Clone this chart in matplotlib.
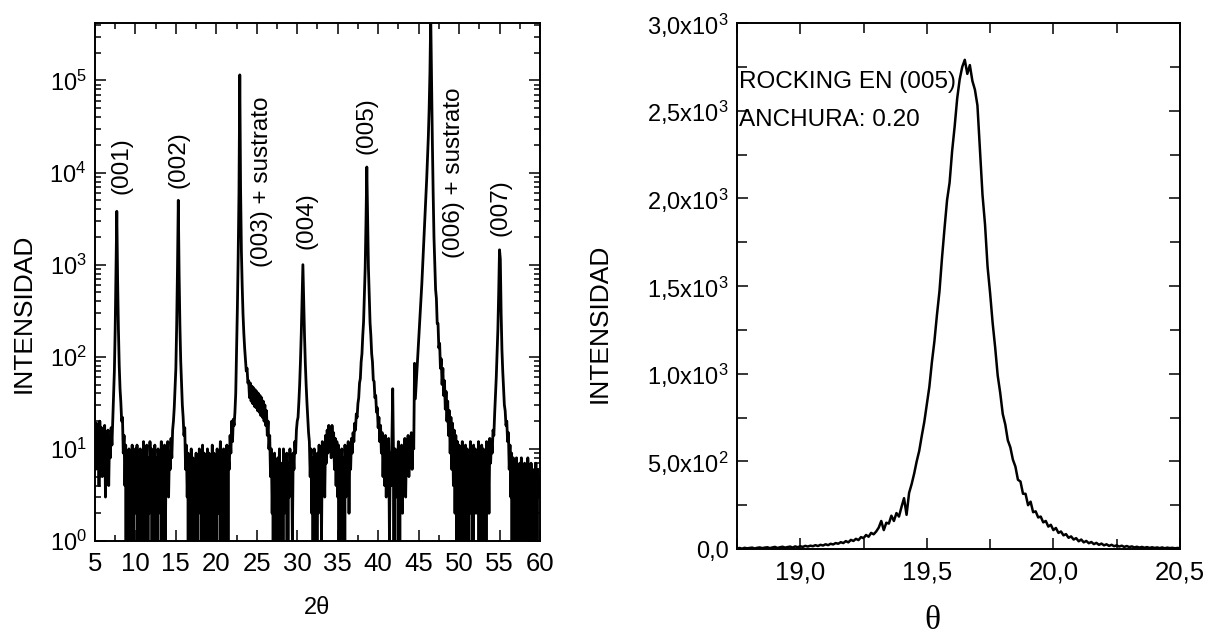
import numpy as np
import matplotlib
matplotlib.use("Agg")
import matplotlib.pyplot as plt
from matplotlib.ticker import MultipleLocator, FixedLocator, FuncFormatter, LogLocator, NullFormatter

plt.rcParams["font.family"] = ["Liberation Sans", "DejaVu Sans"]
plt.rcParams["mathtext.fontset"] = "custom"
plt.rcParams["mathtext.rm"] = "Liberation Sans"
plt.rcParams["mathtext.it"] = "Liberation Sans:italic"
plt.rcParams["mathtext.bf"] = "Liberation Sans:bold"
plt.rcParams["mathtext.default"] = "regular"

# ---- XRD scan (2theta from 5.0 to 60.0, step 0.1) ----
tt_start, tt_step = 5.0, 0.1
counts_05 = [14, 6, 19, 9, 16, 4, 20, 8, 17, 5,
             15, 9, 18, 3, 14, 7, 16, 4, 13, 8,
             17, 11, 20, 35, 70, 200, 850, 3800, 700, 200,
             80, 45, 32, 20, 22, 9, 14, 4, 11, 0,
             9, 3, 10, 0, 8, 2, 11, 0, 9, 3]
counts_10 = [10, 2, 11, 0, 7, 3, 10, 1, 8, 4,
             12, 0, 9, 3, 11, 0, 8, 2, 12, 5,
             10, 0, 9, 3, 11, 1, 8, 0, 10, 4,
             9, 2, 12, 0, 8, 3, 11, 1, 10, 5,
             12, 3, 9, 6, 13, 8, 16, 20, 28, 45]
counts_15 = [75, 220, 900, 5000, 800, 220, 90, 50, 30, 22,
             14, 17, 6, 11, 3, 9, 0, 8, 2, 10,
             0, 8, 1, 7, 3, 9, 0, 7, 2, 10,
             4, 8, 0, 11, 1, 9, 3, 7, 0, 10,
             5, 9, 0, 8, 2, 11, 1, 9, 4, 8]
counts_20 = [0, 10, 2, 9, 4, 12, 0, 8, 3, 10,
             1, 9, 5, 11, 0, 8, 6, 14, 9, 20,
             12, 21, 18, 25, 40, 110, 330, 1200, 6000, 115000,
             6500, 1400, 580, 290, 180, 125, 95, 70, 75, 52,
             55, 36, 52, 33, 48, 31, 46, 29, 44, 28]
counts_25 = [42, 26, 40, 25, 38, 23, 36, 22, 33, 20,
             30, 18, 26, 14, 20, 10, 14, 5, 10, 2,
             8, 0, 9, 2, 7, 0, 8, 3, 10, 1,
             4, 7, 0, 10, 2, 8, 5, 9, 0, 7,
             3, 10, 4, 8, 1, 9, 6, 12, 9, 16]
counts_30 = [20, 22, 32, 50, 90, 180, 450, 1000, 420, 170,
             85, 50, 32, 22, 15, 12, 5, 10, 2, 8,
             0, 10, 3, 8, 0, 9, 2, 11, 4, 9,
             1, 12, 5, 10, 3, 14, 7, 16, 9, 18,
             10, 16, 8, 18, 11, 15, 6, 13, 4, 12]
counts_35 = [3, 11, 0, 9, 4, 10, 1, 8, 0, 11,
             3, 9, 5, 12, 2, 10, 6, 13, 9, 15,
             12, 19, 16, 24, 22, 31, 36, 52, 58, 88,
             108, 170, 240, 460, 930, 3000, 11500, 3100, 920, 470,
             235, 170, 108, 88, 56, 54, 36, 38, 25, 28]
counts_40 = [17, 22, 12, 18, 9, 15, 5, 12, 4, 14,
             3, 11, 6, 13, 1, 9, 4, 12, 45, 8,
             0, 10, 3, 9, 6, 12, 0, 8, 4, 11,
             2, 10, 6, 13, 3, 11, 7, 14, 5, 12,
             9, 15, 6, 13, 10, 85, 35, 50, 70, 100]
counts_45 = [140, 200, 290, 420, 620, 950, 1400, 2200, 3300, 5200,
             8500, 14000, 24000, 48000, 120000, 500000, 100000, 22000, 6000, 2000,
             1000, 540, 430, 230, 230, 125, 140, 75, 95, 50,
             75, 38, 55, 27, 42, 20, 33, 14, 26, 9,
             22, 6, 19, 4, 16, 2, 14, 1, 12, 0]
counts_50 = [11, 3, 10, 0, 12, 4, 9, 1, 11, 5,
             10, 0, 8, 3, 12, 2, 9, 0, 11, 4,
             10, 2, 9, 5, 12, 0, 8, 3, 11, 1,
             10, 4, 9, 0, 12, 6, 10, 2, 13, 7,
             12, 9, 16, 14, 24, 38, 60, 110, 200, 500]
counts_55 = [1450, 1150, 300, 120, 70, 45, 30, 26, 18, 20,
             12, 15, 6, 11, 3, 9, 0, 8, 4, 7,
             1, 8, 3, 6, 0, 7, 2, 8, 0, 6,
             3, 7, 1, 5, 0, 8, 2, 6, 0, 7,
             4, 6, 0, 5, 2, 7, 0, 6, 3, 5,
             4]

peak_labels = ["(001)", "(002)", "(003) + sustrato", "(004)", "(005)", "(006) + sustrato", "(007)"]
label_x = [8.3, 15.3, 25.7, 31.1, 38.5, 49.4, 55.1]
label_y = [12000, 14000, 8000, 3000, 32000, 10000, 4200]

# ---- rocking curve (theta from 18.75 to 20.50, step 0.01) ----
th_start, th_step = 18.75, 0.01
rocking = [3, 6, 2, 7, 4, 6, 8, 3, 7, 9,
           5, 8, 10, 5, 9, 12, 6, 10, 13, 8,
           11, 14, 8, 15, 10, 16, 12, 18, 14, 19,
           16, 22, 17, 24, 20, 27, 22, 30, 26, 34,
           30, 39, 34, 45, 38, 52, 46, 58, 51, 68,
           62, 80, 70, 92, 84, 100, 122, 160, 108, 150,
           145, 190, 160, 205, 185, 240, 290, 195, 320, 370,
           430, 500, 560, 645, 725, 825, 925, 1065, 1185, 1335,
           1470, 1660, 1830, 1990, 2090, 2270, 2410, 2570, 2680, 2750,
           2790, 2710, 2760, 2670, 2620, 2530, 2280, 2020, 1850, 1610,
           1460, 1290, 1150, 990, 890, 770, 710, 620, 580, 510,
           470, 395, 385, 315, 315, 250, 270, 210, 215, 180,
           185, 152, 160, 128, 138, 108, 120, 92, 100, 78,
           85, 64, 72, 54, 62, 44, 54, 38, 46, 33,
           40, 28, 35, 24, 31, 21, 27, 18, 24, 16,
           21, 14, 19, 12, 17, 11, 15, 9, 13, 8,
           12, 7, 11, 6, 10, 6, 9, 5, 9, 4,
           8, 5, 7, 4, 6, 5]

counts = np.array(counts_05 + counts_10 + counts_15 + counts_20 + counts_25 + counts_30
                  + counts_35 + counts_40 + counts_45 + counts_50 + counts_55, dtype=float)
two_theta = tt_start + tt_step * np.arange(len(counts))
rock = np.array(rocking, dtype=float)
theta = th_start + th_step * np.arange(len(rock))

fig = plt.figure(figsize=(12.05, 6.41), dpi=100)

# left panel: XRD (log scale)
ax1 = fig.add_axes([0.0788, 0.156, 0.3693, 0.808])
ax1.plot(two_theta, counts, color="black", lw=2.0)
ax1.set_yscale("log")
ax1.set_xlim(5, 60)
ax1.set_ylim(1, 4.2e5)
ax1.xaxis.set_major_locator(MultipleLocator(5))
ax1.xaxis.set_minor_locator(MultipleLocator(2.5))
ax1.yaxis.set_major_locator(LogLocator(base=10, numticks=10))
ax1.yaxis.set_minor_locator(LogLocator(base=10, subs=np.arange(2, 10), numticks=20))
ax1.yaxis.set_minor_formatter(NullFormatter())
ax1.yaxis.set_major_formatter(FuncFormatter(lambda v, p: r"$10^{%d}$" % round(np.log10(v))))
ax1.set_xlabel("2θ", fontsize=17)
ax1.set_ylabel("INTENSIDAD", fontsize=19)
ax1.xaxis.label.set_va("center")
ax1.yaxis.label.set_va("center")
ax1.xaxis.set_label_coords(0.50, -0.129)
ax1.yaxis.set_label_coords(-0.16, 0.44)
for txt, xx, yy in zip(peak_labels, label_x, label_y):
    ax1.text(xx, yy, txt, rotation=90, ha="center", va="center", fontsize=17.5)

# right panel: rocking curve
ax2 = fig.add_axes([0.6116, 0.1435, 0.3676, 0.8206])
ax2.plot(theta, rock, color="black", lw=1.8)
ax2.set_xlim(18.75, 20.5)
ax2.set_ylim(0, 3000)
ax2.xaxis.set_major_locator(FixedLocator([19.0, 19.5, 20.0, 20.5]))
ax2.xaxis.set_minor_locator(MultipleLocator(0.25))
ax2.yaxis.set_major_locator(FixedLocator([0, 500, 1000, 1500, 2000, 2500, 3000]))
ax2.yaxis.set_minor_locator(MultipleLocator(250))
ax2.xaxis.set_major_formatter(FuncFormatter(lambda v, p: ("%.1f" % v).replace(".", ",")))


def sci_comma(v, p):
    if v <= 0:
        return "0,0"
    e = int(np.floor(np.log10(v)))
    m = v / 10 ** e
    return r"$%d{,}%d\mathrm{x}10^{%d}$" % (int(m), round((m - int(m)) * 10), e)


ax2.yaxis.set_major_formatter(FuncFormatter(sci_comma))
ax2.set_ylabel("INTENSIDAD", fontsize=19)
ax2.set_xlabel("θ", fontsize=24, family=["Liberation Serif", "DejaVu Serif"])
ax2.xaxis.label.set_va("center")
ax2.yaxis.label.set_va("center")
ax2.xaxis.set_label_coords(0.44, -0.137)
ax2.yaxis.set_label_coords(-0.31, 0.43)
ax2.text(18.757, 2664, "ROCKING EN (005)", ha="left", va="center", fontsize=17.5)
ax2.text(18.757, 2447, "ANCHURA: 0.20", ha="left", va="center", fontsize=17.5)

for ax in (ax1, ax2):
    for s in ax.spines.values():
        s.set_linewidth(1.4)
    ax.tick_params(which="both", direction="in", top=True, right=True, width=1.1)
    ax.tick_params(which="major", length=8)
    ax.tick_params(which="minor", length=4.5)
    ax.tick_params(axis="x", labelsize=18.5, pad=8)
    ax.tick_params(axis="y", labelsize=17, pad=6)
ax2.tick_params(which="minor", length=7)

fig.savefig("out.png", dpi=100)
